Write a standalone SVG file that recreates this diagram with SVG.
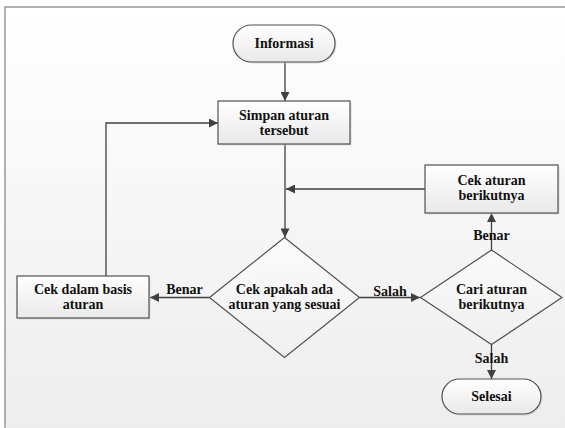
<svg xmlns="http://www.w3.org/2000/svg" width="565" height="428" viewBox="0 0 565 428">
<defs>
<linearGradient id="bg" x1="0" y1="0" x2="0" y2="1">
<stop offset="0" stop-color="#ffffff"/>
<stop offset="1" stop-color="#ededed"/>
</linearGradient>
<linearGradient id="nf" x1="0" y1="0" x2="0" y2="1">
<stop offset="0" stop-color="#ffffff"/>
<stop offset="1" stop-color="#e9e9e9"/>
</linearGradient>
<linearGradient id="df" x1="0" y1="0" x2="0" y2="1">
<stop offset="0" stop-color="#fbfbfb"/>
<stop offset="1" stop-color="#f0f0f0"/>
</linearGradient>
<marker id="ah" viewBox="0 0 10 10" refX="10" refY="5" markerWidth="10" markerHeight="9" markerUnits="userSpaceOnUse" orient="auto">
<path d="M0,0 L10,5 L0,10 z" fill="#404040"/>
</marker>
</defs>
<style>
.n{fill:url(#nf);stroke:#505050;stroke-width:1.2}
.d{fill:url(#df);stroke:#505050;stroke-width:1.2}
.sh{fill:#c8c8c8;opacity:0.6}
.c{fill:none;stroke:#404040;stroke-width:1.3;marker-end:url(#ah)}
.t{font-family:'Liberation Serif','Times New Roman',serif;font-weight:bold;font-size:14px;fill:#111111;text-anchor:middle}
</style>
<rect x="0" y="0" width="565" height="428" fill="#ffffff"/>
<rect x="5" y="7" width="570" height="430" fill="url(#bg)" stroke="#999999" stroke-width="1.5"/>
<g id="connectors">
<line class="c" x1="285" y1="62" x2="285" y2="101"/>
<line class="c" x1="285" y1="144" x2="285" y2="237.5"/>
<line class="c" x1="425" y1="189" x2="286" y2="189"/>
<line class="c" x1="209.5" y1="297.5" x2="150" y2="297.5"/>
<polyline class="c" points="106,276 106,123 218,123"/>
<line class="c" x1="359.5" y1="297.5" x2="420" y2="297.5"/>
<line class="c" x1="491.5" y1="250" x2="491.5" y2="213"/>
<line class="c" x1="491.5" y1="344.5" x2="491.5" y2="379"/>
<text class="t" x="184.5" y="294">Benar</text>
<text class="t" x="390" y="295.5">Salah</text>
<text class="t" x="491.5" y="240">Benar</text>
<text class="t" x="491.5" y="363">Salah</text>
</g>
<g id="informasi">
<rect class="sh" x="234.5" y="26.5" width="102" height="37" rx="18.5"/>
<rect class="n" x="233" y="25" width="102" height="37" rx="18.5"/>
<text class="t" x="284" y="48">Informasi</text>
</g>
<g id="simpan">
<rect class="sh" x="219.5" y="102.5" width="132" height="43"/>
<rect class="n" x="218" y="101" width="132" height="43"/>
<text class="t" x="284" y="120">Simpan aturan</text>
<text class="t" x="284" y="134.5">tersebut</text>
</g>
<g id="cek-aturan">
<rect class="sh" x="426.5" y="166.5" width="133" height="48"/>
<rect class="n" x="425" y="165" width="133" height="48"/>
<text class="t" x="491.5" y="185">Cek aturan</text>
<text class="t" x="491.5" y="200">berikutnya</text>
</g>
<g id="cek-apakah">
<polygon class="d" points="284.5,237.5 359.5,297.5 284.5,357.5 209.5,297.5"/>
<text class="t" x="284.5" y="294">Cek apakah ada</text>
<text class="t" x="284.5" y="309">aturan yang sesuai</text>
</g>
<g id="cek-dalam">
<rect class="sh" x="18.5" y="277.5" width="132" height="42"/>
<rect class="n" x="17" y="276" width="132" height="42"/>
<text class="t" x="83" y="293.5">Cek dalam basis</text>
<text class="t" x="83" y="309">aturan</text>
</g>
<g id="cari-aturan">
<polygon class="d" points="491.5,250 562,297.5 491.5,344.5 420.5,297.5"/>
<text class="t" x="491.5" y="293.5">Cari aturan</text>
<text class="t" x="491.5" y="309">berikutnya</text>
</g>
<g id="selesai">
<rect class="sh" x="443.5" y="380.5" width="99" height="35" rx="17.5"/>
<rect class="n" x="442" y="379" width="99" height="35" rx="17.5"/>
<text class="t" x="491.5" y="401">Selesai</text>
</g>
</svg>
